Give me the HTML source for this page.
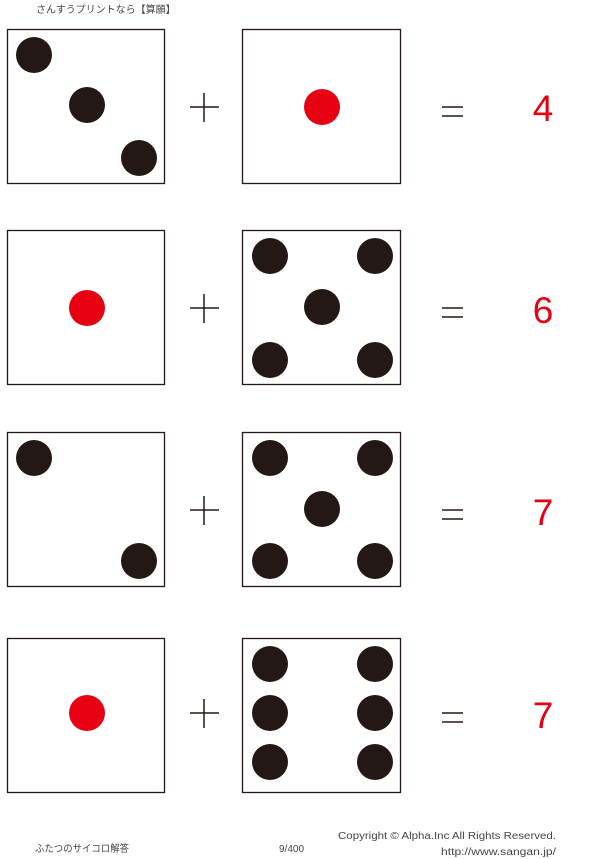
<!DOCTYPE html>
<html><head><meta charset="utf-8"><style>body{margin:0;background:#fff}svg{display:block}</style></head><body>
<svg width="600" height="859" viewBox="0 0 600 859" xmlns="http://www.w3.org/2000/svg" font-family="'Liberation Sans','Noto Sans CJK JP',sans-serif">
<text x="36" y="13" font-size="10" fill="#444">さんすうプリントなら【算願】</text>
<g fill="none" stroke="#231815" stroke-width="1.3">
<rect x="7.5" y="29.5" width="157" height="154"/><rect x="242.5" y="29.5" width="158" height="154"/>
<rect x="7.5" y="230.5" width="157" height="154"/><rect x="242.5" y="230.5" width="158" height="154"/>
<rect x="7.5" y="432.5" width="157" height="154"/><rect x="242.5" y="432.5" width="158" height="154"/>
<rect x="7.5" y="638.5" width="157" height="154"/><rect x="242.5" y="638.5" width="158" height="154"/>
</g>
<g fill="#231815">
<circle cx="34" cy="55" r="18"/><circle cx="87" cy="105" r="18"/><circle cx="139" cy="158" r="18"/>
<circle cx="270" cy="256" r="18"/><circle cx="375" cy="256" r="18"/><circle cx="322" cy="307" r="18"/><circle cx="270" cy="360" r="18"/><circle cx="375" cy="360" r="18"/>
<circle cx="34" cy="458" r="18"/><circle cx="139" cy="561" r="18"/>
<circle cx="270" cy="458" r="18"/><circle cx="375" cy="458" r="18"/><circle cx="322" cy="509" r="18"/><circle cx="270" cy="561" r="18"/><circle cx="375" cy="561" r="18"/>
<circle cx="270" cy="664" r="18"/><circle cx="375" cy="664" r="18"/><circle cx="270" cy="713" r="18"/><circle cx="375" cy="713" r="18"/><circle cx="270" cy="762" r="18"/><circle cx="375" cy="762" r="18"/>
</g>
<g fill="#e60012">
<circle cx="322" cy="107" r="18"/><circle cx="87" cy="308" r="18"/><circle cx="87" cy="713" r="18"/>
</g>
<g stroke="#231815" stroke-width="1.5">
<path d="M190 107H219M204 93V122"/><path d="M442 107H463M442 116H463"/>
<path d="M190 308H219M204 294V323"/><path d="M442 308H463M442 317H463"/>
<path d="M190 510H219M204 496V525"/><path d="M442 510H463M442 519H463"/>
<path d="M190 713H219M204 699V728"/><path d="M442 713H463M442 722H463"/>
</g>
<g fill="#e60012" font-size="37" text-anchor="middle">
<text x="543" y="121">4</text><text x="543" y="323">6</text><text x="543" y="525">7</text><text x="543" y="728">7</text>
</g>
<g font-size="10" fill="#444">
<text x="35" y="852" textLength="94" lengthAdjust="spacingAndGlyphs">ふたつのサイコロ解答</text>
<text x="279" y="852">9/400</text>
<text x="338" y="839" textLength="218" lengthAdjust="spacingAndGlyphs">Copyright ©  Alpha.Inc All Rights Reserved.</text>
<text x="441" y="855" textLength="115" lengthAdjust="spacingAndGlyphs">http://www.sangan.jp/</text>
</g>
</svg>
</body></html>
